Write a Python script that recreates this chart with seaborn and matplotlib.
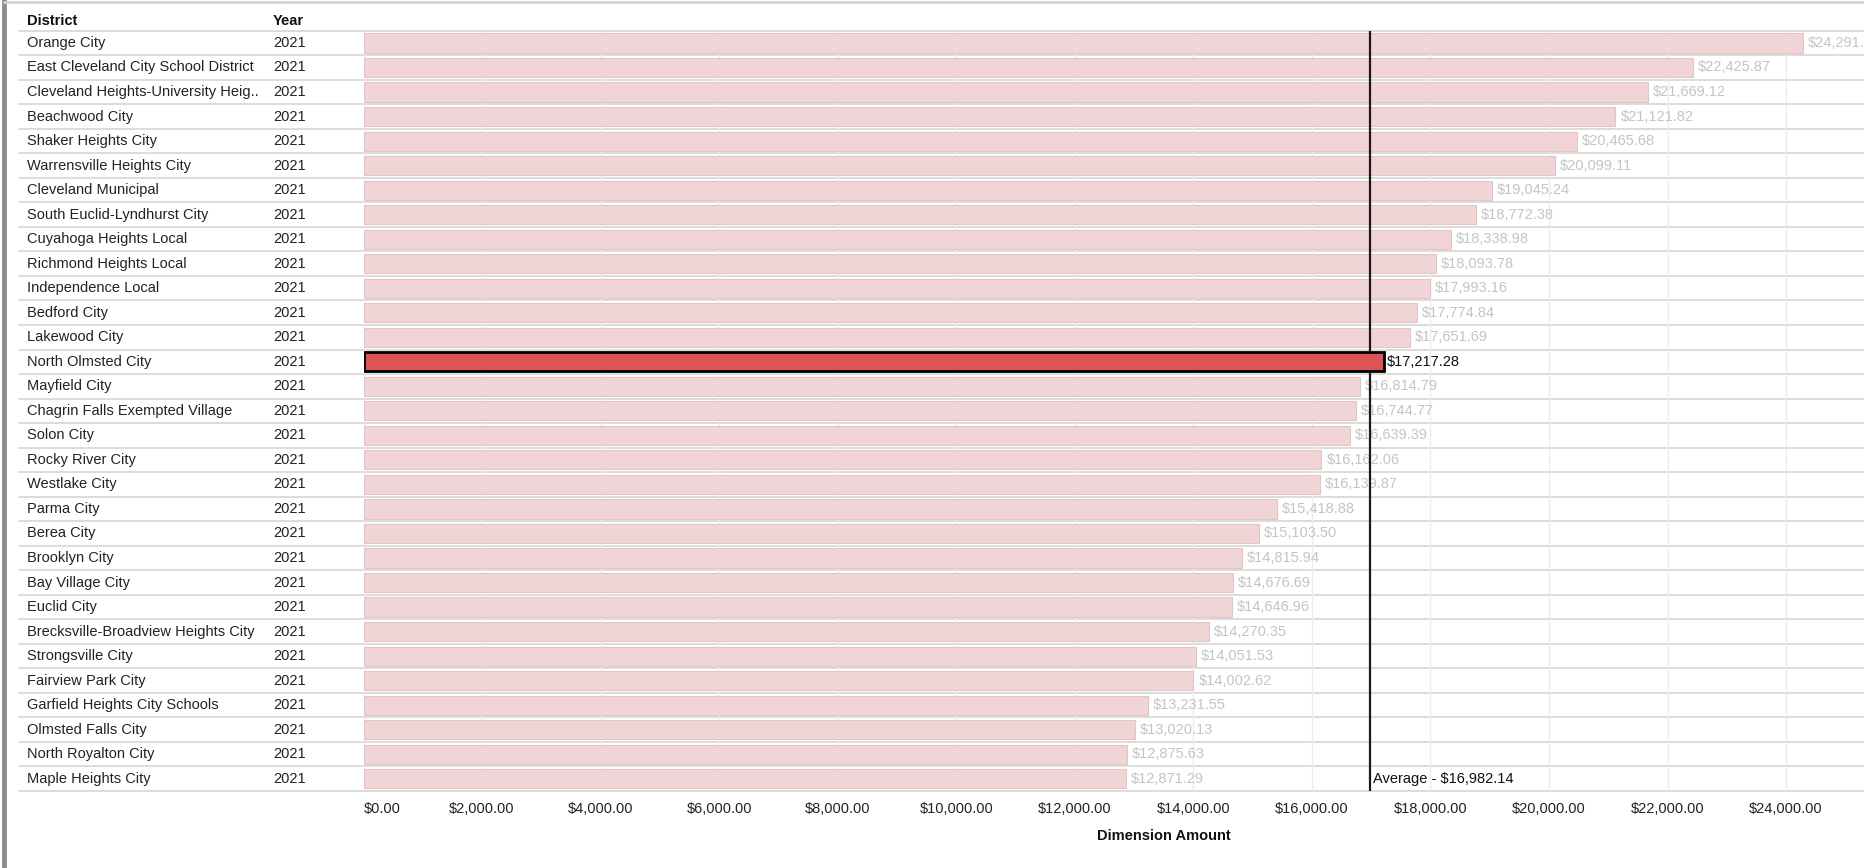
import matplotlib.pyplot as plt
import matplotlib.transforms as mtransforms
from matplotlib.lines import Line2D
import pandas as pd
import seaborn as sns


districts = [
    "Orange City",
    "East Cleveland City School District",
    "Cleveland Heights-University Heig..",
    "Beachwood City",
    "Shaker Heights City",
    "Warrensville Heights City",
    "Cleveland Municipal",
    "South Euclid-Lyndhurst City",
    "Cuyahoga Heights Local",
    "Richmond Heights Local",
    "Independence Local",
    "Bedford City",
    "Lakewood City",
    "North Olmsted City",
    "Mayfield City",
    "Chagrin Falls Exempted Village",
    "Solon City",
    "Rocky River City",
    "Westlake City",
    "Parma City",
    "Berea City",
    "Brooklyn City",
    "Bay Village City",
    "Euclid City",
    "Brecksville-Broadview Heights City",
    "Strongsville City",
    "Fairview Park City",
    "Garfield Heights City Schools",
    "Olmsted Falls City",
    "North Royalton City",
    "Maple Heights City",
]
years = ["2021"] * len(districts)
amounts = [
    24291.40, 22425.87, 21669.12, 21121.82, 20465.68, 20099.11, 19045.24,
    18772.38, 18338.98, 18093.78, 17993.16, 17774.84, 17651.69, 17217.28,
    16814.79, 16744.77, 16639.39, 16162.06, 16139.87, 15418.88, 15103.50,
    14815.94, 14676.69, 14646.96, 14270.35, 14051.53, 14002.62, 13231.55,
    13020.13, 12875.63, 12871.29,
]
highlight = "North Olmsted City"
average = 16982.14
x_ticks = list(range(0, 26001, 2000))

PINK = "#f1d4d5"
RED = "#de5454"
W, H = 1864, 868

sns.set_theme(style="white")
plt.rcParams["font.family"] = ["Liberation Sans", "DejaVu Sans"]

df = pd.DataFrame({"district": districts, "year": years, "amount": amounts})
palette = {d: (RED if d == highlight else PINK) for d in districts}

fig = plt.figure(figsize=(W / 100, H / 100), dpi=100)
ax = fig.add_axes([363.5 / W, (H - 791) / H, 1600.4 / W, 760.3 / H])
ax.set_facecolor("none")

sns.barplot(data=df, x="amount", y="district", hue="district", palette=palette,
            legend=False, dodge=False, width=0.78, orient="h", ax=ax,
            edgecolor="#e6c4c6", linewidth=0.8, saturation=1)

ax.set_xlim(0, 27000)
ax.set_ylim(len(districts) - 0.5, -0.5)

for i, cont in enumerate(ax.containers):
    label = "${:,.2f}".format(amounts[i])
    if districts[i] == highlight:
        for p in cont:
            p.set_edgecolor("black")
            p.set_linewidth(2)
            p.set_zorder(6)
        ax.bar_label(cont, labels=[label], padding=2, color="#111111",
                     fontsize=10.5, zorder=6)
    else:
        ax.bar_label(cont, labels=[label], padding=3.5, color="#c4c4c4",
                     fontsize=10.5, zorder=3)

# average reference line
ax.axvline(average, color="#1a1a1a", lw=1.6, zorder=5)
ax.text(average + 50, len(districts) - 1, "Average - ${:,.2f}".format(average),
        va="center", ha="left", fontsize=10.5, color="#111111")

# x axis
ax.set_xticks(x_ticks)
tick_labels = ax.set_xticklabels(["${:,.2f}".format(v) for v in x_ticks])
tick_labels[0].set_horizontalalignment("left")
ax.tick_params(axis="x", length=0, pad=8, labelsize=10.5, colors="#222222")
ax.set_yticks([])
ax.set_ylabel("")
ax.set_xlabel("Dimension Amount", fontsize=10.5, fontweight="bold",
              color="#111111", labelpad=9)
ax.grid(axis="x", color="#ececec", lw=1)
ax.set_axisbelow(True)
sns.despine(ax=ax, left=True, bottom=True)

# table columns and row separators
trans = mtransforms.blended_transform_factory(fig.transFigure, ax.transData)
ax.text(27 / W, -0.88, "District", transform=trans, va="center", ha="left",
        fontsize=10.5, fontweight="bold", color="#111111")
ax.text(273 / W, -0.88, "Year", transform=trans, va="center", ha="left",
        fontsize=10.5, fontweight="bold", color="#111111")
for i, (d, y) in enumerate(zip(districts, years)):
    ax.text(27 / W, i, d, transform=trans, va="center", ha="left",
            fontsize=10.5, color="#222222")
    ax.text(273 / W, i, y, transform=trans, va="center", ha="left",
            fontsize=10.5, color="#222222")
for i in range(len(districts) + 1):
    ax.plot([19 / W, 1], [i - 0.5, i - 0.5], transform=trans, color="#d6d6d6",
            lw=1.2, clip_on=False, zorder=0.5)

# window frame
fig.add_artist(Line2D([4 / W, 4 / W], [0, 1], transform=fig.transFigure,
                      color="#8c8c8c", lw=3.5))
fig.add_artist(Line2D([4 / W, 1], [1 - 2 / H, 1 - 2 / H], transform=fig.transFigure,
                      color="#d2d2d2", lw=2))

fig.savefig("out.png", dpi=100)
